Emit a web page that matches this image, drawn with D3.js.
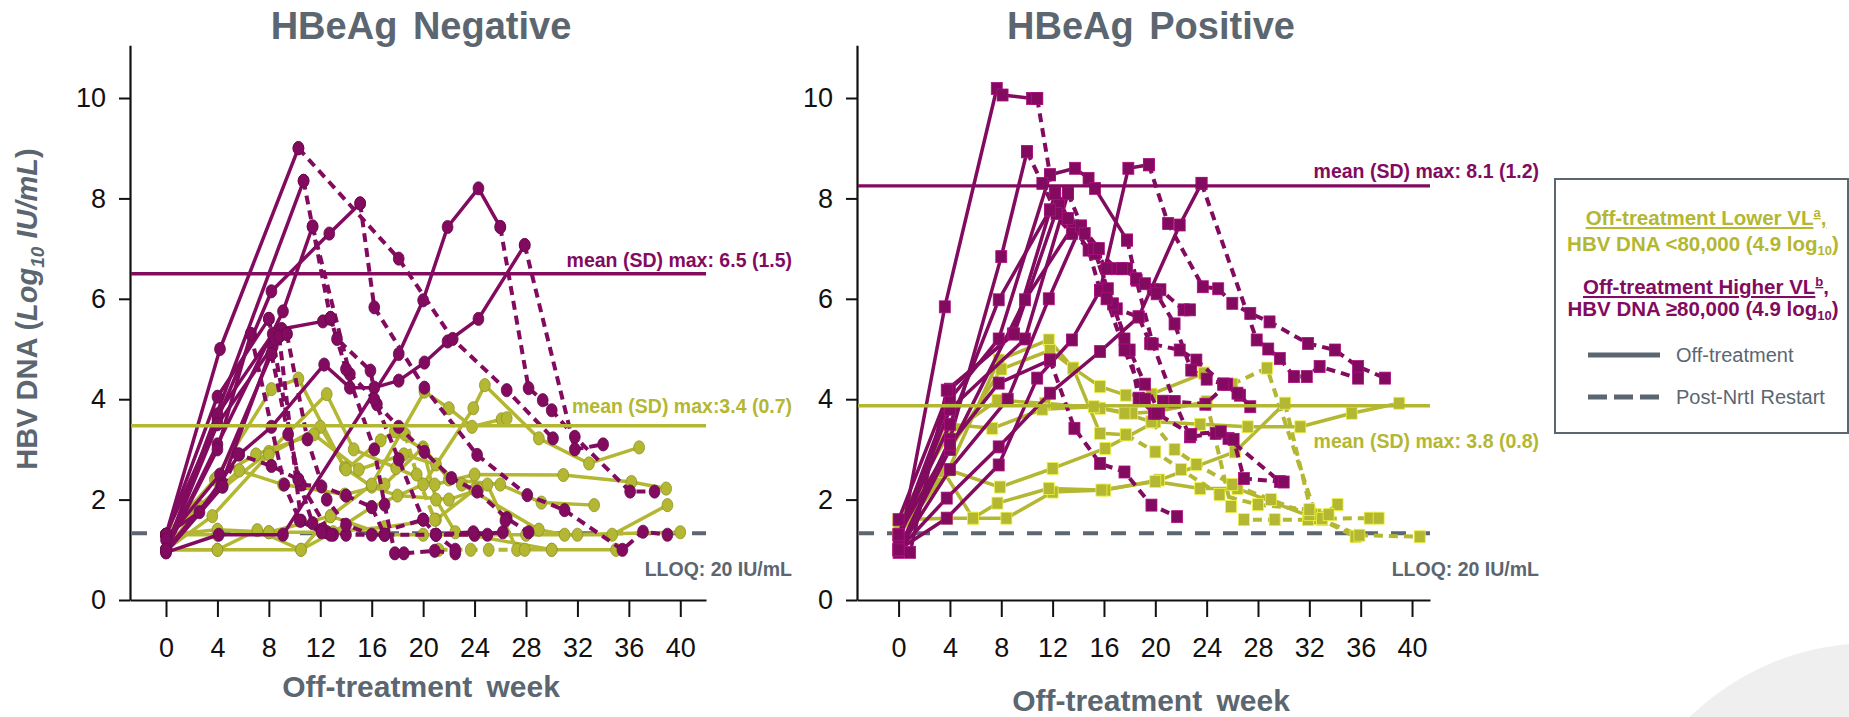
<!DOCTYPE html>
<html>
<head>
<meta charset="utf-8">
<script src="https://cdn.jsdelivr.net/npm/d3@7"></script>
<style>
  body { margin: 0; background: #fff; }
  svg { display: block; font-family: "Liberation Sans", Arial, sans-serif; }
</style>
</head>
<body>
<svg id="chart" width="1849" height="717"></svg>
<script>
// axis ticks
const weekTicks = [0, 4, 8, 12, 16, 20, 24, 28, 32, 36, 40]
const dnaTicks = [0, 2, 4, 6, 8, 10]
const lloq = 1.33

// HBeAg negative: [week, log10 IU/mL]
const negHigherOff = [
  [[0,1.3],[4.2,5.0],[10.3,9.0]],
  [[0,1.0],[10.7,8.35]],
  [[0,1.0],[4,3.1],[9.1,5.75],[11.4,7.44]],
  [[0,1.3],[4,3.6],[8.2,6.15],[12.7,7.3],[15.1,7.9]],
  [[0,0.95],[4.1,1.3],[9.1,1.3],[18.1,4.9],[20,5.97],[21.9,7.43],[24.3,8.2],[26,7.43]],
  [[0,1.3],[2.6,1.75],[5.7,2.9],[8.2,3.45],[12.3,4.69],[14.3,4.23],[16.2,4.23],[18.1,4.37],[20.1,4.73],[21.9,5.15],[24.3,5.6],[27.9,7.07]],
  [[0,1.0],[4,3.7],[8.3,5.3],[9,5.4],[12.2,5.55],[12.8,5.62]],
  [[0,1.3],[4,4.05],[8,5.6]],
  [[0,1.0],[4,3.5],[8.3,5.05],[8.8,5.25]],
  [[0,1.2],[4.2,2.5],[8.2,4.9]],
  [[0,1.0],[4.3,2.3],[8.5,5.2],[9.4,5.3]],
  [[0,0.95],[4.4,2.26]],
  [[0,1.0],[4,3.0],[6.6,5.3]]
]
const negHigherRestart = [
  [[10.3,9.0],[18.1,6.8],[22.3,5.2],[26.5,4.18],[30.1,3.22]],
  [[10.7,8.35],[12.8,5.6],[13.3,5.2],[15.9,4.57],[16.4,3.9],[18.1,3.45],[20.1,2.95],[22.2,2.43],[24.2,2.16],[26.5,1.63],[28.2,1.35]],
  [[11.4,7.44],[14.3,4.5],[16.2,4.0],[18.1,2.8],[20,1.6],[21,1.3],[24,1.3],[26.2,1.35],[26.4,1.58]],
  [[15.1,7.9],[16.2,5.83],[20.1,4.23],[24.2,2.89],[28.1,2.09],[31,1.79],[35.5,1.0],[37.1,1.36],[39,1.3]],
  [[26,7.43],[28.2,4.22],[29.3,3.98],[30,3.78],[31.8,3.25],[36.1,2.16],[38,2.16]],
  [[27.9,7.07],[31.8,3.0],[34,3.1]],
  [[12.8,5.62],[14,4.6],[16.2,3.0],[17,1.9],[17.8,0.93],[18.5,0.93],[20.9,0.98],[22.5,0.93]],
  [[8,5.6],[10.3,2.4],[11.4,1.53],[12.5,1.35],[14,1.3],[17,1.3]],
  [[8.8,5.25],[10.5,1.58],[12.1,1.4],[13,1.3]],
  [[8.2,4.9],[9.5,3.3],[10.5,2.3],[12.1,2.26],[14,2.08],[16,1.85],[17,1.3],[21,1.3],[23.9,1.35],[25,1.3]],
  [[9.4,5.3],[11,3.2],[12.5,2.0],[14,1.5],[16,1.3],[20,1.6],[21,1.3],[22.5,1.0]],
  [[4.4,2.26],[5.6,2.9],[8.2,2.67],[10.3,2.4],[12.8,1.3]],
  [[6.6,5.3],[9.2,2.3],[10.4,1.58],[12.1,1.35]]
]
const negLowerOff = [
  [[0,1.3],[3.8,2.4],[8.2,4.2],[10.3,4.41],[13.9,2.63],[16,2.26],[18,2.08],[22,2.0],[24.3,2.2]],
  [[0,1.0],[2.6,1.86],[8,2.95],[12.5,4.1],[14.6,3.0],[17.9,2.63],[20.9,2.3],[24,2.5],[30.9,2.49],[36.2,2.35],[38.9,2.22]],
  [[0,1.3],[4,1.3],[8,1.35],[12.8,1.67],[16,2.3],[20.1,4.15],[22,3.82],[23.8,3.45],[26.1,3.6],[26.5,3.62]],
  [[0,1.0],[4,1.0],[10.5,1.0],[13,1.35],[16,1.85],[20,2.3],[23.9,3.82],[24.8,4.28],[29,3.22],[32.9,2.72],[36.8,3.04]],
  [[0,1.3],[5.7,2.58],[9.1,2.3],[13.9,2.1],[17,2.3],[20,3.04],[22,2.4],[26,2.3],[29.2,1.94],[33.3,1.89]],
  [[0,1.0],[3.6,1.67],[8,2.9],[12,3.45],[14,2.6],[16.7,3.18],[17.8,3.36],[20,3.0],[21,2.0],[22.5,1.35],[30,1.0],[35,1.0]],
  [[0,1.0],[4,1.0],[7.1,1.39],[10.5,1.0],[12.8,1.67],[17,1.3],[20,1.3],[24,1.3],[28,1.3],[32,1.3],[34.7,1.3],[39,1.89]],
  [[0,1.3],[4,1.4],[8,1.35],[12.5,1.35],[17,1.45],[21,1.6],[24,2.2],[25,2.3],[27.3,1.0],[30,1.0]],
  [[0,1.3],[4,2.45],[7,2.9],[11.5,3.3],[15,2.6],[18.5,2.9],[21,2.7],[23,2.3],[29,1.4],[31,1.3],[40,1.35]]
]
const negLowerRestart = [
  [[21.2,1.0],[23.7,1.0],[25.1,1.0],[27.9,1.0]],
  [[18.6,3.3],[19.5,2.5],[20.9,1.6]]
]

// HBeAg positive
const posHigherOff = [
  [[0,0.95],[3.6,5.84],[7.65,10.19],[8.1,10.06],[10.4,9.99],[10.8,9.99]],
  [[0,1.0],[4,3.2],[8,6.84],[10,8.93]],
  [[0,1.3],[4,4.0],[7.8,5.2],[11.8,8.47],[13.75,8.6],[14.8,8.4],[15.3,8.2],[17.8,7.17]],
  [[0,1.0],[3.75,1.63],[7.8,2.69],[10.8,4.42],[13.5,5.18],[15.7,6.17],[17.9,8.6],[19.5,8.67]],
  [[0,1.0],[3.75,2.03],[7.8,3.05],[11.8,4.12],[15.7,4.95],[18.7,5.64],[21.9,7.47],[23.6,8.3]],
  [[0,1.3],[4,3.5],[7.8,5.98],[11.8,7.77]],
  [[0,1.6],[4,4.2],[8.9,5.3],[12.2,8.1]],
  [[0,1.0],[4,3.0],[9.85,5.98],[13.6,7.45]],
  [[0,1.2],[4,3.8],[9.85,5.2],[13.2,8.1]],
  [[0,1.0],[4,2.6],[8.5,4.0],[11.7,6.0],[14.2,7.45]],
  [[0,1.3],[4,3.1],[7.8,4.32],[11.8,4.78]],
  [[0.9,0.95],[3.75,4.18],[9,5.3],[12.5,7.9]]
]
const posHigherRestart = [
  [[10.8,9.99],[11.8,8.47],[12.5,7.9],[14.2,7.4],[15.4,6.97],[17,6.6],[17.8,6.6],[18.55,6.37],[19.8,6.18],[20.4,6.18],[22.2,5.78],[22.7,5.78]],
  [[10,8.93],[11.2,8.3],[12.3,7.7],[13.6,7.45],[14.8,6.97],[15.7,6.17],[17,5.8],[18.7,5.64],[19.6,5.11],[21.9,4.98],[23.2,4.78],[25.3,4.3],[26.6,4.08],[27.4,3.85]],
  [[17.8,7.17],[18.5,6.4],[19.8,5.1],[21.5,3.95],[22.7,3.25],[24.7,3.32],[25.7,3.22],[29.7,2.36]],
  [[19.5,8.67],[21,7.5],[23.7,6.24],[24.9,6.2],[26,5.91],[27.4,5.71],[28.9,5.54],[31.9,5.11],[34,4.98],[35.8,4.65],[37.9,4.42]],
  [[23.6,8.3],[27.9,5.18],[28.8,5.0],[29.7,4.81],[30.8,4.45],[31.8,4.45],[32.8,4.65],[35.8,4.42]],
  [[11.8,7.77],[13.5,7.3],[15.3,6.9],[16.7,5.9],[18,4.98],[18.7,4.02],[19.9,3.72],[20.6,3.96]],
  [[12.2,8.1],[13.2,7.6],[15.2,7.0],[16.3,6.2],[17.6,5.2],[19.2,4.3],[20.3,3.75],[21.5,3.95],[23.9,3.9],[25.6,4.3],[26.4,4.12]],
  [[11.8,4.78],[13.7,3.42],[15.7,2.72],[17.6,2.55],[19.7,1.89],[21.7,1.66]],
  [[14.2,7.45],[15.6,7.0],[16.2,6.0],[17.6,4.98],[19.2,4.0],[20.1,3.72],[22.8,3.3],[25.1,3.35],[26.1,3.2],[26.9,2.42],[30,2.35]],
  [[13.2,8.1],[14.5,7.3],[16.2,6.6],[17.4,6.6],[19.2,6.3],[20.1,6.1],[21.5,5.5],[22.8,4.58],[24,4.4],[25.3,4.3]]
]
const posLowerOff = [
  [[0,1.3],[3.9,2.6],[7.8,4.78],[11.7,5.18],[13.6,4.62],[15.7,4.25],[17.7,4.08],[19.7,4.1],[23.8,4.52]],
  [[0,1.6],[3.9,3.3],[7.7,3.98],[11.4,3.92],[15.7,3.82],[18.2,3.72],[20,3.75],[24,3.95]],
  [[0,1.3],[3.9,3.5],[7.3,3.42],[11.2,3.8],[15.2,3.85],[17.6,3.72],[19.7,3.55]],
  [[0,1.5],[4,3.0],[8,4.6],[11.8,4.97],[13.6,4.62],[15.7,3.32],[17.7,3.29]],
  [[0,1.3],[3.9,2.59],[7.9,2.25],[12,2.62],[16.1,3.02],[20,3.55],[23.5,3.5],[27.2,3.45],[31.3,3.45],[35.3,3.72],[39,3.92]],
  [[0,1.6],[3.8,1.63],[5.8,1.63],[8.4,1.63],[12,2.15],[16.1,2.19],[20.3,2.39],[26.2,2.95],[30.1,3.92]],
  [[0,1.3],[3.5,2.56],[5.8,1.63],[7.7,1.93],[11.7,2.22],[15.8,2.19],[20,2.36],[23.5,2.22],[26.4,2.22],[32.5,1.62],[34.2,1.9]]
]
const posLowerRestart = [
  [[23.8,4.52],[26,4.3],[28.7,4.62],[32.5,1.7],[33,1.6]],
  [[30.1,3.92],[32.2,1.7],[35.6,1.26]],
  [[24,3.95],[25.9,1.86],[26.9,1.6],[29.3,1.6],[31.9,1.6],[33,1.62],[36.7,1.63],[37.4,1.63]],
  [[19.7,3.55],[21.5,3.0],[23.2,2.7],[26,2.3],[29,2.0],[32,1.7],[35.9,1.29],[40.6,1.26]],
  [[17.7,3.29],[20,2.95],[22,2.6],[25,2.1],[28,1.9],[32,1.8],[33.5,1.7]]
]

// mean of maximum values: [higher VL, lower VL]
const negMeans = [6.5, 3.47]
const posMeans = [8.25, 3.87]
const negMeanLabels = ["mean (SD) max: 6.5 (1.5)", "mean (SD) max:3.4 (0.7)"]
const posMeanLabels = ["mean (SD) max: 8.1 (1.2)", "mean (SD) max: 3.8 (0.8)"]

const MAG = "#820b60"
const OLV = "#b3b732"
const GREY = "#5b6670"

const svg = d3.select("#chart")

// faint decorative circle bottom right
svg.append("circle")
  .attr("cx", 1872).attr("cy", 905).attr("r", 262)
  .attr("fill", "#efefef")

function drawPanel(cfg) {
  const g = svg.append("g")
  const x = d3.scaleLinear().domain(cfg.xDomain).range(cfg.xRange)
  const y = d3.scaleLinear().domain([0, 11.05]).range([600, 45.3])

  const xAxis = g.append("g")
    .attr("transform", "translate(0,600)")
    .call(d3.axisBottom(x).tickValues(weekTicks).tickSize(17).tickSizeOuter(0).tickPadding(21))
  const yAxis = g.append("g")
    .attr("transform", `translate(${cfg.xRange[0]},0)`)
    .call(d3.axisLeft(y).tickValues(dnaTicks).tickSize(11).tickSizeOuter(0).tickPadding(13))
  for (const ax of [xAxis, yAxis]) {
    ax.select(".domain").attr("stroke", "#111").attr("stroke-width", 2.2)
    ax.selectAll(".tick line").attr("stroke", "#111").attr("stroke-width", 2)
    ax.selectAll(".tick text")
      .attr("fill", "#111")
      .attr("font-size", 27)
      .attr("font-family", "Liberation Sans, Arial, sans-serif")
  }

  // LLOQ
  g.append("line")
    .attr("x1", cfg.xRange[0] + 2).attr("x2", cfg.xRange[1])
    .attr("y1", y(lloq)).attr("y2", y(lloq))
    .attr("stroke", GREY).attr("stroke-width", 4)
    .attr("stroke-dasharray", "15,13")

  const line = d3.line().x(d => x(d[0])).y(d => y(d[1]))

  function series(data, color, dashed) {
    g.append("g").selectAll("path")
      .data(data)
      .join("path")
      .attr("d", line)
      .attr("fill", "none")
      .attr("stroke", color)
      .attr("stroke-width", dashed ? 4 : 3.5)
      .attr("stroke-linejoin", "round")
      .attr("stroke-dasharray", dashed ? "9,6" : null)

    const pts = data.flat()
    const edge = d3.color(color).darker(0.6)
    if (cfg.marker === "circle") {
      g.append("g").selectAll("ellipse")
        .data(pts)
        .join("ellipse")
        .attr("cx", d => x(d[0])).attr("cy", d => y(d[1]))
        .attr("rx", 5.4).attr("ry", 6.6)
        .attr("fill", color)
        .attr("stroke", edge).attr("stroke-width", 0.8)
    } else {
      g.append("g").selectAll("rect")
        .data(pts)
        .join("rect")
        .attr("x", d => x(d[0]) - 5.5).attr("y", d => y(d[1]) - 6)
        .attr("width", 11).attr("height", 12)
        .attr("fill", color)
        .attr("stroke", d3.color(color).brighter(0.8)).attr("stroke-width", 0.8)
    }
  }

  series(cfg.lowerOff, OLV, false)
  series(cfg.lowerRestart, OLV, true)
  series(cfg.higherOff, MAG, false)
  series(cfg.higherRestart, MAG, true)

  // mean max lines
  ;[MAG, OLV].forEach((c, i) => {
    g.append("line")
      .attr("x1", cfg.xRange[0] + 1).attr("x2", cfg.xRange[1])
      .attr("y1", y(cfg.means[i])).attr("y2", y(cfg.means[i]))
      .attr("stroke", c).attr("stroke-width", 3.4)
    g.append("text")
      .attr("x", cfg.labelRight)
      .attr("y", y(cfg.means[i]) + cfg.labelOffsets[i])
      .attr("text-anchor", "end")
      .attr("font-size", 19.5).attr("font-weight", "bold")
      .attr("fill", c)
      .text(cfg.meanLabels[i])
  })

  g.append("text")
    .attr("x", cfg.labelRight).attr("y", 576)
    .attr("text-anchor", "end")
    .attr("font-size", 19.5).attr("font-weight", "bold")
    .attr("fill", GREY)
    .text("LLOQ: 20 IU/mL")

  g.append("text")
    .attr("x", cfg.titleX).attr("y", 39)
    .attr("text-anchor", "middle")
    .attr("font-size", 38).attr("font-weight", "bold")
    .attr("fill", GREY).attr("word-spacing", 5)
    .text(cfg.title)

  g.append("text")
    .attr("x", cfg.titleX).attr("y", cfg.xLabelY)
    .attr("text-anchor", "middle")
    .attr("font-size", 30).attr("font-weight", "bold")
    .attr("fill", GREY).attr("word-spacing", 6)
    .text("Off-treatment week")
}

drawPanel({
  title: "HBeAg Negative", titleX: 421, xLabelY: 697,
  xDomain: [-2.8, 42], xRange: [130, 706], marker: "circle",
  higherOff: negHigherOff, higherRestart: negHigherRestart,
  lowerOff: negLowerOff, lowerRestart: negLowerRestart,
  means: negMeans, meanLabels: negMeanLabels,
  labelRight: 792, labelOffsets: [-7, -13]
})

drawPanel({
  title: "HBeAg Positive", titleX: 1151, xLabelY: 711,
  xDomain: [-3.24, 41.4], xRange: [857, 1430], marker: "square",
  higherOff: posHigherOff, higherRestart: posHigherRestart,
  lowerOff: posLowerOff, lowerRestart: posLowerRestart,
  means: posMeans, meanLabels: posMeanLabels,
  labelRight: 1539, labelOffsets: [-8, 42]
})

// y axis title
const yl = svg.append("text")
  .attr("transform", "translate(37,309) rotate(-90)")
  .attr("text-anchor", "middle")
  .attr("font-size", 29).attr("font-weight", "bold")
  .attr("fill", GREY)
yl.append("tspan").text("HBV DNA (")
yl.append("tspan").attr("font-style", "italic").text("Log")
yl.append("tspan").attr("font-style", "italic").attr("font-size", 19).attr("dy", 7).text("10")
yl.append("tspan").attr("font-style", "italic").attr("dy", -7).text(" IU/mL")
yl.append("tspan").text(")")

// legend
const lg = svg.append("g")
lg.append("rect")
  .attr("x", 1555).attr("y", 179).attr("width", 293).attr("height", 254)
  .attr("fill", "#fff").attr("stroke", GREY).attr("stroke-width", 2)

function legendHeading(yPos, color, main, sup) {
  const t = lg.append("text")
    .attr("x", 1706).attr("y", yPos)
    .attr("text-anchor", "middle")
    .attr("font-size", 20.5).attr("font-weight", "bold")
    .attr("fill", color)
    .attr("text-decoration", "underline")
  t.append("tspan").text(main)
  t.append("tspan").attr("font-size", 13).attr("dy", -8).text(sup)
  t.append("tspan").attr("dy", 8).text(",")
}
function legendSub(yPos, color, text) {
  const t = lg.append("text")
    .attr("x", 1703).attr("y", yPos)
    .attr("text-anchor", "middle")
    .attr("font-size", 20.5).attr("font-weight", "bold")
    .attr("fill", color)
  t.append("tspan").text(text)
  t.append("tspan").attr("font-size", 13).attr("dy", 4).text("10")
  t.append("tspan").attr("dy", -4).text(")")
}
legendHeading(225, OLV, "Off-treatment Lower VL", "a")
legendSub(251, OLV, "HBV DNA <80,000 (4.9 log")
legendHeading(294, MAG, "Off-treatment Higher VL", "b")
legendSub(316, MAG, "HBV DNA \u226580,000 (4.9 log")

const legendLines = [["Off-treatment", null, 355], ["Post-NrtI Restart", "19,7", 397]]
legendLines.forEach(([label, dash, yPos]) => {
  lg.append("line")
    .attr("x1", 1588).attr("x2", 1660).attr("y1", yPos).attr("y2", yPos)
    .attr("stroke", GREY).attr("stroke-width", 5)
    .attr("stroke-dasharray", dash)
  lg.append("text")
    .attr("x", 1676).attr("y", yPos + 7)
    .attr("font-size", 20).attr("fill", GREY)
    .text(label)
})
</script>
</body>
</html>
